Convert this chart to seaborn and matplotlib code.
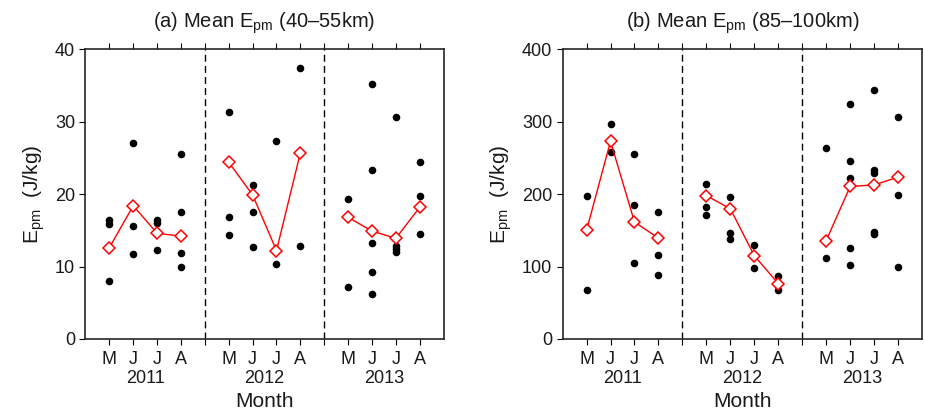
import numpy as np
import pandas as pd
import matplotlib
matplotlib.use('Agg')
import matplotlib.pyplot as plt
import seaborn as sns

months = ['M', 'J', 'J', 'A']
years = ['2011', '2012', '2013']

# individual values (J/kg), one list per month, 2011 M..A, 2012 M..A, 2013 M..A
low_pts = [
    [16.4, 15.9, 12.7, 8.0], [27.0, 15.6, 11.7], [16.4, 16.0, 12.3], [25.5, 17.6, 11.9, 10.0],
    [31.4, 16.9, 14.4], [21.2, 17.5, 12.7], [27.4, 10.4], [37.4, 12.8],
    [19.3, 7.2], [35.2, 23.4, 13.2, 9.2, 6.2], [30.7, 12.9, 12.4, 12.0], [24.4, 19.8, 14.5],
]
low_mean = [12.6, 18.4, 14.6, 14.2, 24.4, 19.9, 12.2, 25.7, 16.8, 14.9, 13.9, 18.2]

high_pts = [
    [198, 150.5, 68.3], [297, 258.7], [255, 184.4, 104.6], [174.8, 116.5, 88],
    [214.7, 182, 170.6], [195.4, 145.9, 138], [130.3, 97.7], [87.6, 68.3],
    [263.3, 112.4], [324.3, 246.3, 222, 125.7, 101.8], [344, 233.5, 229, 148.2, 145.4], [306.9, 199, 100],
]
high_mean = [150, 273, 161.5, 139.4, 198, 179.8, 115, 76.6, 135.8, 210.6, 212.8, 223.4]

# x slot for each month (gap slot between years)
xpos = [1, 2, 3, 4, 6, 7, 8, 9, 11, 12, 13, 14]

sns.set_style('ticks')
plt.rcParams['font.family'] = ['Liberation Sans', 'DejaVu Sans']
plt.rcParams['mathtext.fontset'] = 'custom'
plt.rcParams['mathtext.rm'] = 'Liberation Sans'
plt.rcParams['mathtext.it'] = 'Liberation Sans'

fig = plt.figure(figsize=(9.25, 4.12), dpi=100)
ax1 = fig.add_axes([0.0924, 0.1772, 0.3872, 0.7031])
ax2 = fig.add_axes([0.6082, 0.1772, 0.3886, 0.7031])

txt = '#1a1a1a'


def draw(ax, pts, means, ymax, title):
    df = pd.DataFrame([(x, v) for x, vals in zip(xpos, pts) for v in vals], columns=['x', 'val'])
    sns.scatterplot(data=df, x='x', y='val', ax=ax, color='black', s=30, edgecolor='black',
                    linewidth=0, zorder=3)
    for k in range(3):
        seg = pd.DataFrame({'x': xpos[4 * k:4 * k + 4], 'val': means[4 * k:4 * k + 4]})
        sns.lineplot(data=seg, x='x', y='val', ax=ax, color='red', lw=1, marker='D',
                     markersize=6, markerfacecolor='white', markeredgecolor='red',
                     markeredgewidth=1.1, zorder=4)
    for d in (5, 10):
        ax.axvline(d, color='black', ls=(0, (5, 3)), lw=1)
    ax.set_xlim(0, 15)
    ax.set_ylim(0, ymax)
    ax.set_yticks(np.linspace(0, ymax, 5))
    ax.set_xticks(range(1, 15))
    ax.set_xticklabels([months[(i - 1) % 5] if i % 5 else '' for i in range(1, 15)])
    ax.tick_params(axis='both', direction='out', length=4, width=0.8, labelsize=13,
                   top=True, colors='black', labelcolor=txt)
    ax.tick_params(axis='x', pad=5)
    for sp in ax.spines.values():
        sp.set_visible(True)
        sp.set_linewidth(1.2)
    ax.set_xlabel('')
    ax.set_ylabel('E$_{\\rm pm}$  (J/kg)', fontsize=15, labelpad=6, color=txt)
    ax.text(7.5, 1.075, title, transform=ax.get_xaxis_transform(), ha='center',
            va='baseline', fontsize=14.5, color=txt)
    for k, yr in enumerate(years):
        ax.text(2.5 + 5 * k, -0.138, yr, transform=ax.get_xaxis_transform(), ha='center',
                va='center', fontsize=13, color=txt)
    ax.text(7.5, -0.216, 'Month', transform=ax.get_xaxis_transform(), ha='center',
            va='center', fontsize=15, color=txt)


draw(ax1, low_pts, low_mean, 40, '(a) Mean E$_{\\rm pm}$ (40\u201355km)')
draw(ax2, high_pts, high_mean, 400, '(b) Mean E$_{\\rm pm}$ (85\u2013100km)')

fig.savefig('out.png', dpi=100)
